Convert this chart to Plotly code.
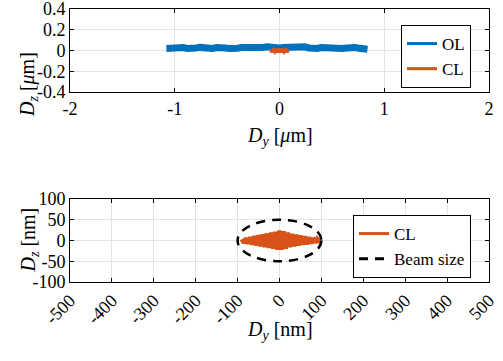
import plotly.graph_objects as go

# ---- data ----
ol_y = [-1.08,-1.04,-1.00,-0.96,-0.92,-0.88,-0.84,-0.80,-0.76,-0.72,-0.68,-0.64,-0.60,-0.56,-0.52,-0.48,
        -0.44,-0.40,-0.36,-0.32,-0.28,-0.24,-0.20,-0.16,-0.12,-0.08,-0.04,0.00,0.04,0.08,0.12,0.16,
        0.20,0.24,0.28,0.32,0.36,0.40,0.44,0.48,0.52,0.56,0.60,0.64,0.68,0.72,0.76,0.80,0.84]
ol_z = [0.020,0.025,0.022,0.018,0.028,0.020,0.015,0.025,0.030,0.022,0.018,0.020,0.028,0.032,0.025,0.020,
        0.015,0.022,0.030,0.028,0.020,0.018,0.025,0.030,0.035,0.028,0.022,0.025,0.030,0.032,0.025,0.020,
        0.028,0.035,0.025,0.018,0.020,0.028,0.025,0.015,0.018,0.022,0.020,0.025,0.030,0.028,0.022,0.018,0.012]

cl_top_y = [-0.09,-0.075,-0.06,-0.045,-0.03,-0.015,0.00,0.015,0.03,0.045,0.06,0.075,0.09]
cl_top_z = [0.000,-0.006,0.008,-0.012,0.014,-0.018,0.018,-0.018,0.014,-0.012,0.008,-0.006,0.000]

cl_y = [-90,-85,-80,-75,-70,-65,-60,-55,-50,-45,-40,-35,-30,-25,-20,-15,-10,-5,0,
        5,10,15,20,25,30,35,40,45,50,55,60,65,70,75,80,85,90,95,100]
cl_z = [3,-6,6,-8,8,-10,11,-12,13,-14,15,-16,17,-18,19,-20,21,-22,24,
        -22,22,-20,19,-16,16,-14,14,-12,12,-10,10,-9,8,-7,6,-5,4,-2,0]

beam_y = [-100, 100]   # beam size extent (nm)
beam_z = [-50, 50]

top_xticks = [-2, -1, 0, 1, 2]
top_yticks = [-0.4, -0.2, 0, 0.2, 0.4]
bot_xticks = [-500, -400, -300, -200, -100, 0, 100, 200, 300, 400, 500]
bot_yticks = [-100, -50, 0, 50, 100]

def lab(v):
    return "%g" % v

BLUE = "#0072BD"
ORANGE = "#D95319"
FONT = "Liberation Serif"

fig = go.Figure()
fig.add_trace(go.Scatter(x=ol_y, y=ol_z, mode="lines", name="OL", showlegend=False,
                         line=dict(color=BLUE, width=7), xaxis="x", yaxis="y"))
fig.add_trace(go.Scatter(x=cl_top_y, y=cl_top_z, mode="lines", name="CL", showlegend=False,
                         line=dict(color=ORANGE, width=3.5), xaxis="x", yaxis="y"))
# legend entries (top)
fig.add_trace(go.Scatter(x=[None], y=[None], mode="lines", name="OL",
                         line=dict(color=BLUE, width=3), xaxis="x", yaxis="y", legend="legend"))
fig.add_trace(go.Scatter(x=[None], y=[None], mode="lines", name="CL",
                         line=dict(color=ORANGE, width=3), xaxis="x", yaxis="y", legend="legend"))
fig.add_trace(go.Scatter(x=cl_y, y=cl_z, mode="lines", name="CL",
                         line=dict(color=ORANGE, width=4.5), xaxis="x2", yaxis="y2", showlegend=False))
fig.add_trace(go.Scatter(x=[None], y=[None], mode="lines", name="CL",
                         line=dict(color=ORANGE, width=3), xaxis="x2", yaxis="y2", legend="legend2"))
fig.add_trace(go.Scatter(x=[None], y=[None], mode="lines", name="Beam size",
                         line=dict(color="black", width=3, dash="9px,7px"),
                         xaxis="x2", yaxis="y2", legend="legend2"))
fig.add_shape(type="circle", xref="x2", yref="y2",
              x0=beam_y[0], x1=beam_y[1], y0=beam_z[0], y1=beam_z[1],
              line=dict(color="black", width=2.5, dash="9px,7px"))

ax_common = dict(showline=True, linecolor="black", linewidth=1, mirror="ticks",
                 ticks="inside", ticklen=4, tickcolor="black", automargin=False,
                 ticklabeloverflow="allow",
                 showgrid=True, gridcolor="#e3e3e3", gridwidth=1, zeroline=False,
                 tickfont=dict(family=FONT, size=18, color="black"))

xd = [70/503, 489/503]
fig.update_layout(
    width=503, height=361, margin=dict(l=0, r=0, t=0, b=0),
    paper_bgcolor="white", plot_bgcolor="white",
    font=dict(family=FONT, color="black"),
    xaxis=dict(domain=xd, anchor="y", range=[-2, 2], tickvals=top_xticks,
               ticktext=[lab(v) for v in top_xticks], **ax_common),
    yaxis=dict(domain=[1 - 92/361, 1 - 9/361], anchor="x", range=[-0.4, 0.4], tickvals=top_yticks,
               ticktext=[lab(v) for v in top_yticks], **ax_common),
    xaxis2=dict(domain=xd, anchor="y2", range=[-500, 500], tickvals=bot_xticks,
                ticktext=[lab(v) for v in bot_xticks], tickangle=-45, **ax_common),
    yaxis2=dict(domain=[1 - 282/361, 1 - 199/361], anchor="x2", range=[-100, 100], tickvals=bot_yticks,
                ticktext=[lab(v) for v in bot_yticks], **ax_common),
    legend=dict(x=471/503, y=1 - 25/361, xanchor="right", yanchor="top", bgcolor="white",
                bordercolor="black", borderwidth=1, font=dict(family=FONT, size=17),
                itemwidth=30, tracegroupgap=0),
    legend2=dict(x=471/503, y=1 - 215/361, xanchor="right", yanchor="top", bgcolor="white",
                 bordercolor="black", borderwidth=1, font=dict(family=FONT, size=17),
                 itemwidth=30, tracegroupgap=0),
    showlegend=True,
)

ann_font = dict(family=FONT, size=20, color="black")
fig.add_annotation(text="<i>D<sub>y</sub></i> [<i>μ</i>m]", xref="paper", yref="paper",
                   x=280/503, y=1 - 137/361, showarrow=False, font=ann_font)
fig.add_annotation(text="<i>D<sub>z</sub></i> [<i>μ</i>m]", xref="paper", yref="paper",
                   x=14/503, y=1 - 50/361, showarrow=False, font=ann_font, textangle=-90)
fig.add_annotation(text="<i>D<sub>y</sub></i> [nm]", xref="paper", yref="paper",
                   x=280/503, y=1 - 345/361, showarrow=False, font=ann_font)
fig.add_annotation(text="<i>D<sub>z</sub></i> [nm]", xref="paper", yref="paper",
                   x=14/503, y=1 - 240/361, showarrow=False, font=ann_font, textangle=-90)

fig.write_html("out.html", config={"displayModeBar": False},
               post_script="document.body.style.margin='0';document.body.style.overflow='hidden';")
